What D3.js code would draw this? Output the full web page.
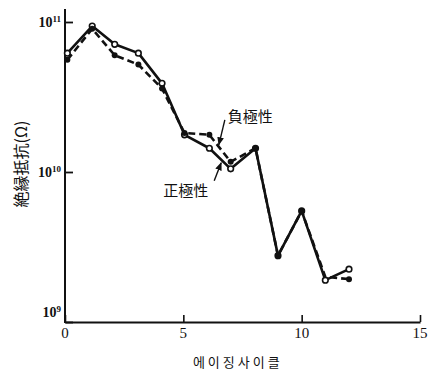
<!DOCTYPE html>
<html>
<head>
<meta charset="utf-8">
<script src="https://cdn.jsdelivr.net/npm/d3@7/dist/d3.min.js"></script>
<style>
  html, body { margin: 0; padding: 0; background: #fff; }
  svg { display: block; }
  .num { font-family: "Liberation Serif", "DejaVu Serif", serif; fill: #111; }
  .cjk { font-family: "Noto Sans CJK JP", sans-serif; fill: #111; }
  .kr { font-family: "Noto Sans CJK KR", sans-serif; fill: #111; }
</style>
</head>
<body>
<svg id="chart" width="430" height="372"></svg>
<script>
// Aging cycles (x) and insulation resistance in ohms for each polarity
const cycles   = [0.1, 1.15, 2.1, 3.1, 4.1, 5.05, 6.1, 7.0, 8.05, 9.0, 10.0, 11.0, 12.0];
const positive = [6.2e10, 9.4e10, 7.1e10, 6.2e10, 3.9e10, 1.77e10, 1.44e10, 1.05e10, 1.44e10, 2.77e9, 5.5e9, 1.9e9, 2.25e9];
const negative = [5.6e10, 9.0e10, 6.0e10, 5.2e10, 3.6e10, 1.82e10, 1.77e10, 1.17e10, 1.44e10, 2.77e9, 5.5e9, 2.0e9, 1.93e9];

const xTicks = [0, 5, 10, 15];
const yTicks = [1e9, 1e10, 1e11];
const yTickExp = ["9", "10", "11"];

const xTitle = "에이징사이클";
const yTitle = "絶縁抵抗(Ω)";
const posLabel = "正極性";
const negLabel = "負極性";

const svg = d3.select("#chart");

const x = d3.scaleLinear().domain([0, 15]).range([65, 420]);
const y = d3.scaleLog().domain([1e9, 1e11]).range([322, 22]);

// x axis: ticks pointing up into the plot
const gx = svg.append("g")
  .attr("transform", `translate(0,${y(1e9)})`)
  .call(d3.axisBottom(x).tickValues(xTicks).tickSize(-7).tickSizeOuter(0).tickFormat(""));
gx.select(".domain").attr("stroke", "#111").attr("stroke-width", 2);
gx.selectAll(".tick line").attr("stroke", "#111").attr("stroke-width", 1.6);

svg.append("g").selectAll("text")
  .data(xTicks).join("text")
  .attr("class", "num")
  .attr("x", d => x(d))
  .attr("y", y(1e9) + 16)
  .attr("text-anchor", "middle")
  .attr("font-size", 15)
  .text(d => d);

// y axis: ticks pointing right into the plot, extended above the top decade
const gy = svg.append("g")
  .attr("transform", `translate(${x(0)},0)`)
  .call(d3.axisLeft(y).tickValues(yTicks).tickSize(-8).tickSizeOuter(0).tickFormat(""));
gy.select(".domain").remove();
gy.selectAll(".tick line").attr("stroke", "#111").attr("stroke-width", 1.8);
svg.append("line")
  .attr("x1", x(0)).attr("x2", x(0))
  .attr("y1", y(1e11) - 13).attr("y2", y(1e9) + 1)
  .attr("stroke", "#111").attr("stroke-width", 2);

// power-of-ten labels
const yl = svg.append("g").selectAll("text")
  .data(yTicks).join("text")
  .attr("class", "num")
  .attr("x", x(0) - 4)
  .attr("y", (d, i) => y(d) + (i === 0 ? -5 : 5))
  .attr("text-anchor", "end")
  .attr("font-size", 14)
  .attr("font-weight", "bold");
yl.append("tspan").text("10");
yl.append("tspan").attr("dy", -5).attr("font-size", 9).text((d, i) => yTickExp[i]);

// axis titles
svg.append("text")
  .attr("class", "kr")
  .attr("x", x(7.3)).attr("y", 367)
  .attr("text-anchor", "middle")
  .attr("font-size", 13)
  .attr("letter-spacing", 3)
  .text(xTitle);

svg.append("text")
  .attr("class", "cjk")
  .attr("transform", "translate(27,164) rotate(-90)")
  .attr("text-anchor", "middle")
  .attr("font-size", 16)
  .text(yTitle);

// series
const pts = arr => cycles.map((c, i) => [c, arr[i]]);
const line = d3.line().x(d => x(d[0])).y(d => y(d[1]));

svg.append("path")
  .datum(pts(positive))
  .attr("d", line)
  .attr("fill", "none")
  .attr("stroke", "#111")
  .attr("stroke-width", 2.6)
  .attr("stroke-linejoin", "round");

svg.append("path")
  .datum(pts(negative))
  .attr("d", line)
  .attr("fill", "none")
  .attr("stroke", "#111")
  .attr("stroke-width", 2.6)
  .attr("stroke-dasharray", "7,4");

svg.append("g").selectAll("circle")
  .data(pts(positive)).join("circle")
  .attr("cx", d => x(d[0])).attr("cy", d => y(d[1]))
  .attr("r", 2.8)
  .attr("fill", "#fff").attr("stroke", "#111").attr("stroke-width", 1.6);

svg.append("g").selectAll("circle")
  .data(pts(negative).filter((d, i) => i !== 11)).join("circle")
  .attr("cx", d => x(d[0])).attr("cy", d => y(d[1]))
  .attr("r", 3)
  .attr("fill", "#111");

// polarity callouts, anchored on the series segments between cycles 6 and 7
svg.append("defs").append("marker")
  .attr("id", "arrow")
  .attr("viewBox", "0 0 10 10")
  .attr("refX", 9).attr("refY", 5)
  .attr("markerWidth", 6).attr("markerHeight", 6)
  .attr("orient", "auto-start-reverse")
  .append("path").attr("d", "M0,1 L10,5 L0,9 Z").attr("fill", "#111");

function onSeries(arr, xv) {
  const i = d3.bisectRight(cycles, xv) - 1;
  const t = (xv - cycles[i]) / (cycles[i + 1] - cycles[i]);
  const ly = Math.log10(arr[i]) + t * (Math.log10(arr[i + 1]) - Math.log10(arr[i]));
  return [x(xv), y(Math.pow(10, ly))];
}

const negTip = onSeries(negative, 6.5);
svg.append("line")
  .attr("x1", negTip[0] + 6).attr("y1", negTip[1] - 27)
  .attr("x2", negTip[0]).attr("y2", negTip[1] - 2)
  .attr("stroke", "#111").attr("stroke-width", 1.4)
  .attr("marker-end", "url(#arrow)");
svg.append("text")
  .attr("class", "cjk")
  .attr("x", negTip[0] + 9).attr("y", negTip[1] - 25)
  .attr("font-size", 15)
  .text(negLabel);

const posTip = onSeries(positive, 6.6);
svg.append("line")
  .attr("x1", posTip[0] - 7).attr("y1", posTip[1] + 21)
  .attr("x2", posTip[0]).attr("y2", posTip[1] + 3)
  .attr("stroke", "#111").attr("stroke-width", 1.4)
  .attr("marker-end", "url(#arrow)");
svg.append("text")
  .attr("class", "cjk")
  .attr("x", posTip[0] - 58).attr("y", posTip[1] + 36)
  .attr("font-size", 15)
  .text(posLabel);
</script>
</body>
</html>
